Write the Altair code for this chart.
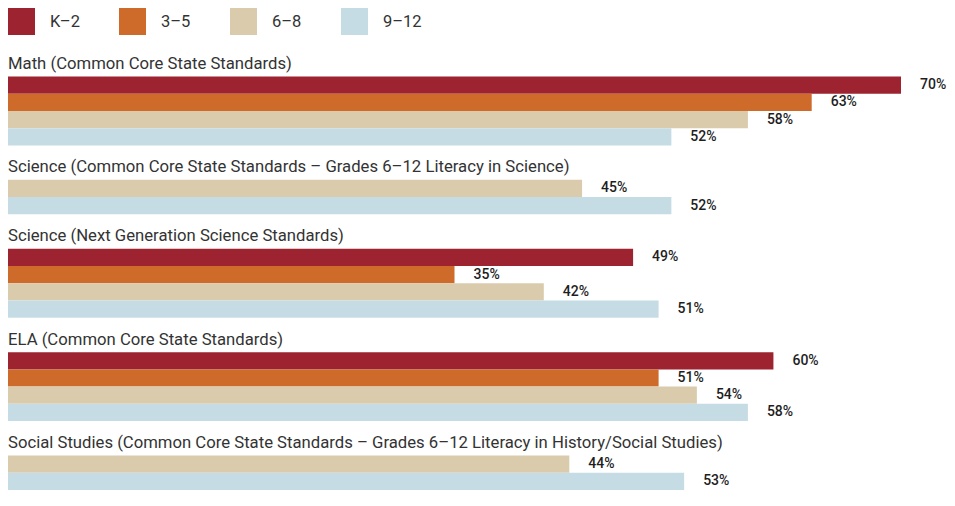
import altair as alt
import pandas as pd

groups = [
    "Math (Common Core State Standards)",
    "Science (Common Core State Standards – Grades 6–12 Literacy in Science)",
    "Science (Next Generation Science Standards)",
    "ELA (Common Core State Standards)",
    "Social Studies (Common Core State Standards – Grades 6–12 Literacy in History/Social Studies)",
]
grades = ["K–2", "3–5", "6–8", "9–12"]
k2 = [70, None, 49, 60, None]
g35 = [63, None, 35, 51, None]
g68 = [58, 45, 42, 54, 44]
g912 = [52, 52, 51, 58, 53]
colors = ["#9C232F", "#CE6B2A", "#DACBAD", "#C6DCE4"]

series = [k2, g35, g68, g912]
recs = []
keys = []
n = 0
for gi, g in enumerate(groups):
    for part in range(2):
        key = f"r{n:02d}"
        keys.append(key)
        recs.append(dict(row=key, kind="title", title=g if part == 1 else "", grade=None, value=None, label=""))
        n += 1
    for si, s in enumerate(series):
        v = s[gi]
        if v is None:
            continue
        key = f"r{n:02d}"
        keys.append(key)
        recs.append(dict(row=key, kind="bar", title="", grade=grades[si], value=v, label=f"{v}%"))
        n += 1

df = pd.DataFrame(recs)
FONT = "Roboto"

yenc = alt.Y("row:N", axis=None, sort=keys,
             scale=alt.Scale(domain=keys, paddingInner=0, paddingOuter=0, range=[34, 482]))
xscale = alt.Scale(domain=[0, 70], nice=False, zero=True, range=[0, 893])

base = alt.Chart(df)

bars = base.transform_filter("datum.kind == 'bar'").mark_bar().encode(
    x=alt.X("value:Q", axis=None, scale=xscale),
    y=yenc,
    color=alt.Color("grade:N", scale=alt.Scale(domain=grades, range=colors),
                    legend=alt.Legend(orient="none", legendX=0, legendY=0,
                                      direction="horizontal", symbolType="square",
                                      symbolSize=729, symbolStrokeWidth=0, symbolOpacity=1,
                                      labelFontSize=16.5, labelOffset=15, columnPadding=30,
                                      gridAlign="all", title=None, labelFont=FONT,
                                      labelColor="#333333", padding=0)),
)

labels = base.transform_filter("datum.kind == 'bar'").mark_text(
    align="left", baseline="middle", dx=19, fontSize=14, font=FONT, fontWeight=500,
    color="#1e1e1e"
).encode(
    x=alt.X("value:Q", scale=xscale),
    y=yenc,
    text="label:N",
)

titles = base.transform_filter("datum.kind == 'title' && datum.title != ''").mark_text(
    align="left", baseline="alphabetic", dy=1, fontSize=16.7, font=FONT, color="#333333"
).encode(
    x=alt.value(0),
    y=yenc,
    text="title:N",
)

chart = alt.layer(bars, labels, titles).properties(
    width=939, height=482, padding=0,
    autosize=alt.AutoSizeParams(type="none")
).configure(background="white").configure_view(stroke=None)

chart.save("out.html", embed_options={"renderer": "svg", "actions": False})
